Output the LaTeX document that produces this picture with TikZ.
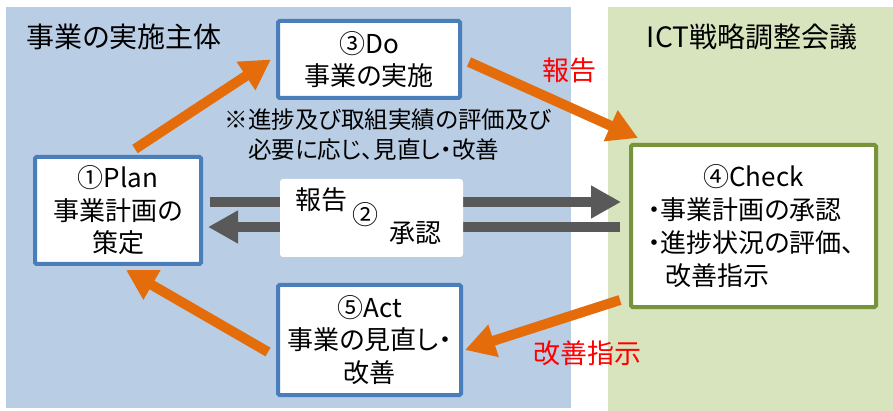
\documentclass[tikz,border=0pt]{standalone}
\usepackage{fontspec}
\setmainfont{Noto Sans CJK JP}[RawFeature=+palt]
\usepackage{tikz}
\usetikzlibrary{arrows.meta}
\definecolor{bgblue}{HTML}{B9CDE5}
\definecolor{bggreen}{HTML}{D7E4BD}
\definecolor{boxblue}{HTML}{4A7EBB}
\definecolor{boxgreen}{HTML}{77933C}
\definecolor{cycleorange}{HTML}{E46C0A}
\definecolor{flowgray}{HTML}{595959}
\tikzset{
  box/.style={draw=boxblue, line width=4pt, fill=white, rounded corners=1.5pt, inner sep=0pt, align=center, font=\fontsize{26}{32.5}\selectfont},
  cyclearrow/.style={draw=cycleorange, line width=10pt, -{Triangle[length=30pt,width=32pt]}},
  flowarrow/.style={draw=flowgray, line width=10.5pt, -{Triangle[length=30pt,width=31pt]}},
  heading/.style={font=\fontsize{28}{34}\selectfont},
  redlabel/.style={text=red, font=\fontsize{27}{32}\selectfont},
  midlabel/.style={font=\fontsize{26}{30}\selectfont, inner sep=0pt}
}

\begin{document}
\begin{tikzpicture}[x=1pt, y=-1pt]
    \useasboundingbox (0,0) rectangle (893,411);
    \fill[bgblue] (6,7) rectangle (571,408);
    \fill[bggreen] (608,7) rectangle (893,411);

    \node (bodytitle) [heading] at (124,37) {事業の実施主体};
    \node (icttitle) [heading] at (752,37) {ICT戦略調整会議};

    \node (plan) [box, minimum width=166pt, minimum height=107pt] at (118,210.5) {①Plan\\事業計画の\\策定};
    \node (do) [box, minimum width=182pt, minimum height=77pt] at (369,59.5) {③Do\\事業の実施};
    \node (act) [box, minimum width=183pt, minimum height=110pt] at (369.5,340) {⑤Act\\事業の見直し・\\改善};
    \node (check) [box, draw=boxgreen, minimum width=245pt, minimum height=162pt, text width=212pt, align=left, font=\fontsize{26}{33}\selectfont] at (753.5,226)
    {\makebox[\linewidth]{④Check}\\・事業計画の承認\\・進捗状況の評価、\\\hspace*{0.7em}改善指示};

    \draw[flowarrow] ([xshift=7pt,yshift=8.5pt]plan.east) -- ([xshift=-8pt,yshift=24pt]check.west);
    \draw[flowarrow] ([xshift=-9pt,yshift=-1pt]check.west) -- ([xshift=5pt,yshift=-16.5pt]plan.east);

    \node (mid) [fill=white, rounded corners=3pt, minimum width=183pt, minimum height=78pt] at (371.5,218) {};
    \node (report) [midlabel] at (321,200) {報告};
    \node (two) [midlabel] at (365,215) {②};
    \node (approve) [midlabel] at (415,233) {承認};

    \node (note) [align=left, font=\fontsize{23.5}{30}\selectfont] at (388,135)
    {※進捗及び取組実績の評価及び\\\hspace*{1em}必要に応じ、見直し・改善};

    \draw[cyclearrow] ([xshift=17pt,yshift=6pt]plan.north) -- ([xshift=-5pt]do.west);
    \draw[cyclearrow] ([xshift=7pt,yshift=-2.5pt]do.east) -- ([xshift=9pt,yshift=5pt]check.north west);
    \draw[cyclearrow] ([xshift=-9pt,yshift=9pt]check.south west) -- ([xshift=2pt,yshift=-10pt]act.east);
    \draw[cyclearrow] ([xshift=-8pt,yshift=-12pt]act.west) -- ([xshift=8pt,yshift=-4pt]plan.south);

    \node (reportred) [redlabel] at (569,70) {報告};
    \node (improvered) [redlabel] at (587,353) {改善指示};
\end{tikzpicture}
\end{document}
